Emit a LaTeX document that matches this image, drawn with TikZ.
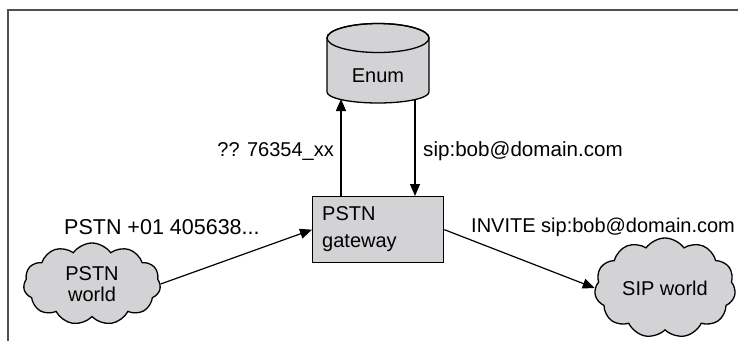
\documentclass[tikz,border=0pt]{standalone}
\usepackage{fontspec}
\setmainfont{Liberation Sans}
\usetikzlibrary{shapes.symbols,arrows.meta}
\definecolor{boxgray}{HTML}{D3D3D5}
\definecolor{framegray}{HTML}{505050}
\tikzset{
  lbl/.style={font=\fontsize{20}{24}\selectfont, inner sep=0pt},
  conn/.style={line width=1.2pt, -{Triangle[length=12pt,width=10pt]}},
  cloudnode/.style={cloud, cloud puffs=11, cloud puff arc=110, cloud ignores aspect, draw, line width=1.3pt, fill=boxgray, align=center, font=\fontsize{20}{24}\selectfont, inner sep=0pt},
}
\begin{document}
\begin{tikzpicture}[x=1pt,y=-1pt]
\useasboundingbox (0,0) rectangle (738,341);
\draw[framegray, line width=2pt] (8,341) -- (8,10) -- (738,10);
% cylinder
\filldraw[fill=boxgray, draw=black, line width=1.3pt]
  (327,38) -- (327,92) arc[start angle=180, end angle=0, x radius=51, y radius=11] -- (429,38)
  arc[start angle=0, end angle=-180, x radius=51, y radius=14.5] -- cycle;
\draw[line width=1.3pt] (378,38) ellipse[x radius=51, y radius=14.5];
\node[lbl] (enum) at (378,76) {Enum};
\coordinate (enumin) at (341,99);
\coordinate (enumout) at (415,99);
% gateway
\node[draw, line width=1.3pt, fill=boxgray, minimum width=131pt, minimum height=66pt, anchor=north west, inner sep=0pt] (gw) at (312,196) {};
\node[lbl, anchor=west, align=left, font=\fontsize{20}{27}\selectfont] (gwtext) at (322,229) {PSTN\\gateway};
% clouds
\node[cloudnode, minimum width=137pt, minimum height=82pt] (pstn) at (92,284) {PSTN\\[-3pt]world};
\node[cloudnode, minimum width=141pt, minimum height=100pt] (sip) at (665,288) {SIP world};
% connectors
\draw[conn] (gw.north -| enumin) -- (enumin);
\draw[conn] (enumout) -- (gw.north -| enumout);
\draw[conn] (pstn.east) -- (gw.west);
\draw[conn] (gw.east) -- (sip.west);
% labels
\node[lbl, anchor=east] (l1) at (334,151) {?? 76354\_xx};
\node[lbl, anchor=west, font=\fontsize{20.6}{24}\selectfont] (l2) at (423,151) {sip:bob@domain.com};
\node[lbl, anchor=west, font=\fontsize{21.5}{24}\selectfont] (l3) at (64,227) {PSTN +01 405638...};
\node[lbl, anchor=west] (l4) at (471,227) {INVITE sip:bob@domain.com};
\end{tikzpicture}
\end{document}
